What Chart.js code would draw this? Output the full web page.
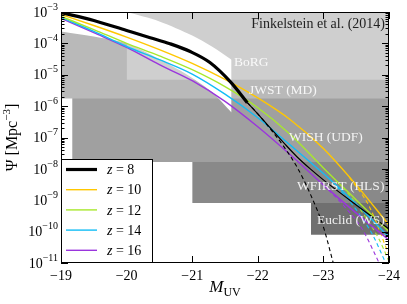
<!DOCTYPE html>
<html>
<head>
<meta charset="utf-8">
<script src="https://cdn.jsdelivr.net/npm/chart.js@4.4.0/dist/chart.umd.min.js"></script>
<style>
  html, body { margin: 0; padding: 0; background: #fff; }
  canvas { display: block; }
</style>
</head>
<body>
<canvas id="uvlf" width="407" height="304"></canvas>
<script>
// magnitude grid the coloured curves were read on
const magnitudes = [-19, -19.5, -20, -20.5, -21, -21.5, -22, -22.5, -23, -23.5, -24];

// log10 Psi [Mpc^-3], solid curves
const logPsiZ10 = [-3.08, -3.43, -3.80, -4.20, -4.64, -5.15, -5.74, -6.44, -7.35, -8.51, -9.79];
const logPsiZ12 = [-3.14, -3.56, -4.00, -4.40, -4.84, -5.38, -6.05, -6.91, -7.97, -8.99, -10.0];
const logPsiZ14 = [-3.17, -3.62, -4.10, -4.52, -4.98, -5.62, -6.37, -7.25, -8.15, -9.12, -10.17];
const logPsiZ16 = [-3.20, -3.66, -4.13, -4.68, -5.19, -5.85, -6.66, -7.56, -8.51, -9.41, -10.27];

// z = 8: thick part, thin solid extension, dashed extension
const magZ8Thick = [-19, -19.5, -20, -20.36, -20.66, -20.97, -21.27, -21.58, -21.84];
const logZ8Thick = [-3.02, -3.27, -3.59, -3.82, -4.01, -4.26, -4.61, -5.22, -5.89];
const magZ8Thin  = [-21.84, -22, -22.2, -22.4, -22.6, -22.8, -23, -23.5, -24];
const logZ8Thin  = [-5.89, -6.25, -6.72, -7.18, -7.62, -8.0, -8.35, -9.15, -9.92];
const magZ8Dash  = [-21.84, -22, -22.2, -22.4, -22.6, -22.8, -23, -23.15];
const logZ8Dash  = [-5.89, -6.25, -6.75, -7.3, -7.95, -8.8, -9.85, -11.0];

// dashed bright-end continuations of the coloured curves
const dashMagZ10 = [-23.4, -23.7, -24.0];
const dashLogZ10 = [-8.28, -9.2, -10.75];
const dashMagZ12 = [-23.3, -23.6, -23.85, -24.0];
const dashLogZ12 = [-8.58, -9.4, -10.25, -10.95];
const dashMagZ14 = [-23.2, -23.5, -23.75, -23.95];
const dashLogZ14 = [-8.56, -9.3, -10.1, -11.0];
const dashMagZ16 = [-23.0, -23.3, -23.6, -23.85];
const dashLogZ16 = [-8.51, -9.15, -9.95, -11.0];

// white band (upper and lower edge)
const bandMag      = [-19, -19.5, -20, -20.5, -21, -21.3, -21.6];
const bandLogUpper = [-2.55, -2.75, -3.0, -3.3, -3.75, -4.1, -4.52];
const bandLogLower = [-3.62, -3.78, -4.0, -4.5, -5.1, -5.55, -6.2];

// surveys: faint limit in M_UV, log10 of 1/volume
const surveyNames  = ['Euclid (WS)', 'WFIRST (HLS)', 'WISH (UDF)', 'JWST (MD)', 'BoRG'];
const surveyMagLim = [-22.81, -21.0, -19.17, -18.5, -20.0];
const surveyLogPsi = [-10.1, -9.09, -7.78, -5.76, -5.16];
const surveyGrays  = ['#707070', '#898989', '#a0a0a0', '#b9b9b9', '#cfcfcf'];

const redshiftLabels = ['8', '10', '12', '14', '16'];
const redshiftColors = ['#000000', '#ffc700', '#a8e82c', '#12bdf5', '#9a35dd'];

const yDecades = [-11, -10, -9, -8, -7, -6, -5, -4, -3];
const xTicks = [-19, -20, -21, -22, -23, -24];

const toPoints = (mags, logs) => mags.map((m, i) => ({ x: m, y: Math.pow(10, logs[i]) }));

const lineSet = (label, mags, logs, color, width, dash, order) => ({
    label: label,
    data: toPoints(mags, logs),
    borderColor: color,
    borderWidth: width,
    borderDash: dash,
    pointRadius: 0,
    cubicInterpolationMode: 'monotone',
    fill: false,
    order: order
});

const datasets = [];
datasets.push(lineSet('z = 8', magZ8Thick, logZ8Thick, '#000', 3.2, [], 0));
datasets.push(lineSet('z8 thin', magZ8Thin, logZ8Thin, '#000', 1.2, [], 0));
datasets.push(lineSet('z8 dash', magZ8Dash, logZ8Dash, '#000', 1.1, [4, 3], 0));

const colouredLogs = [logPsiZ10, logPsiZ12, logPsiZ14, logPsiZ16];
const dashMags = [dashMagZ10, dashMagZ12, dashMagZ14, dashMagZ16];
const dashLogs = [dashLogZ10, dashLogZ12, dashLogZ14, dashLogZ16];
colouredLogs.forEach((logs, i) => {
    const z = redshiftLabels[i + 1];
    const c = redshiftColors[i + 1];
    datasets.push(lineSet('z = ' + z, magnitudes, logs, c, 1.4, [], 1));
    datasets.push(lineSet('dash' + z, dashMags[i], dashLogs[i], c, 1.1, [4, 3], 2));
});

const upperIndex = datasets.length;
datasets.push({
    label: 'bandUpper',
    data: toPoints(bandMag, bandLogUpper),
    borderWidth: 0,
    pointRadius: 0,
    tension: 0.3,
    fill: false,
    order: 5
});
datasets.push({
    label: 'bandLower',
    data: toPoints(bandMag, bandLogLower),
    borderWidth: 0,
    pointRadius: 0,
    tension: 0.3,
    backgroundColor: '#ffffff',
    fill: { target: upperIndex },
    order: 5
});

surveyNames.forEach((name, i) => {
    datasets.push({
        label: name,
        data: [{ x: surveyMagLim[i], y: Math.pow(10, surveyLogPsi[i]) }, { x: -24, y: Math.pow(10, surveyLogPsi[i]) }],
        borderWidth: 0,
        pointRadius: 0,
        backgroundColor: surveyGrays[i],
        fill: 'end',
        order: 20 - i
    });
});

const serif = '"Liberation Serif", "DejaVu Serif", serif';

const decorPlugin = {
    id: 'decor',
    afterDatasetsDraw(chart) {
        const { ctx, chartArea: a, scales: { x, y } } = chart;
        ctx.save();

        // survey labels
        ctx.fillStyle = 'rgba(255,255,255,0.88)';
        ctx.font = '13.5px ' + serif;
        ctx.textBaseline = 'middle';
        ctx.textAlign = 'left';
        const labelPos = [[317, 220], [297, 186], [289, 137], [249, 90], [234, 62]];
        surveyNames.forEach((n, i) => ctx.fillText(n, labelPos[i][0], labelPos[i][1]));

        // annotation
        ctx.fillStyle = '#222';
        ctx.font = '14px ' + serif;
        ctx.textAlign = 'right';
        ctx.fillText('Finkelstein et al. (2014)', a.right - 4, a.top + 12);

        // frame
        ctx.strokeStyle = '#000';
        ctx.lineWidth = 1;
        ctx.strokeRect(a.left + 0.5, a.top + 0.5, a.right - a.left - 1, a.bottom - a.top - 1);

        // ticks, pointing inwards on all four sides
        ctx.beginPath();
        yDecades.forEach(e => {
            const py = Math.round(y.getPixelForValue(Math.pow(10, e))) + 0.5;
            ctx.moveTo(a.left, py); ctx.lineTo(a.left + 7, py);
            ctx.moveTo(a.right, py); ctx.lineTo(a.right - 7, py);
            if (e < -3) {
                for (let k = 2; k <= 9; k++) {
                    const pm = Math.round(y.getPixelForValue(k * Math.pow(10, e))) + 0.5;
                    ctx.moveTo(a.left, pm); ctx.lineTo(a.left + 3.5, pm);
                    ctx.moveTo(a.right, pm); ctx.lineTo(a.right - 3.5, pm);
                }
            }
        });
        xTicks.forEach(m => {
            const px = Math.round(x.getPixelForValue(m)) + 0.5;
            ctx.moveTo(px, a.bottom); ctx.lineTo(px, a.bottom - 7);
            ctx.moveTo(px, a.top); ctx.lineTo(px, a.top + 7);
        });
        ctx.stroke();

        // y tick labels 10^e
        ctx.fillStyle = '#000';
        ctx.textAlign = 'left';
        yDecades.forEach(e => {
            const py = y.getPixelForValue(Math.pow(10, e));
            ctx.font = '14px ' + serif;
            const w10 = ctx.measureText('10').width;
            ctx.font = '10px ' + serif;
            const sup = '\u2212' + Math.abs(e);
            const ws = ctx.measureText(sup).width;
            const x0 = a.left - 3 - w10 - ws;
            ctx.font = '14px ' + serif;
            ctx.fillText('10', x0, py + 1);
            ctx.font = '10px ' + serif;
            ctx.fillText(sup, x0 + w10, py - 5);
        });

        // x tick labels
        ctx.font = '14px ' + serif;
        ctx.textAlign = 'center';
        xTicks.forEach(m => {
            ctx.fillText('\u2212' + Math.abs(m), x.getPixelForValue(m), a.bottom + 13);
        });

        // x title M_UV
        ctx.font = 'italic 17px ' + serif;
        const wM = ctx.measureText('M').width;
        ctx.font = '12px ' + serif;
        const wUV = ctx.measureText('UV').width;
        const cx = (a.left + a.right) / 2 - (wM + wUV) / 2;
        ctx.textAlign = 'left';
        ctx.font = 'italic 17px ' + serif;
        ctx.fillText('M', cx, 288);
        ctx.font = '12px ' + serif;
        ctx.fillText('UV', cx + wM, 293);

        // y title Psi [Mpc^-3]
        ctx.save();
        ctx.translate(13, (a.top + a.bottom) / 2);
        ctx.rotate(-Math.PI / 2);
        ctx.font = '16px ' + serif;
        const t1 = '\u03a8 [Mpc';
        const w1 = ctx.measureText(t1).width;
        ctx.font = '11px ' + serif;
        const w2 = ctx.measureText('\u22123').width;
        ctx.font = '16px ' + serif;
        const w3 = ctx.measureText(']').width;
        const tx = -(w1 + w2 + w3) / 2;
        ctx.fillText(t1, tx, 0);
        ctx.font = '11px ' + serif;
        ctx.fillText('\u22123', tx + w1, -6);
        ctx.font = '16px ' + serif;
        ctx.fillText(']', tx + w1 + w2, 0);
        ctx.restore();

        // legend box
        const lx = a.left, ly = 159, lw = 91, lh = a.bottom - 159;
        ctx.fillStyle = '#fff';
        ctx.fillRect(lx, ly, lw, lh);
        ctx.strokeStyle = '#000';
        ctx.lineWidth = 1;
        ctx.strokeRect(lx + 0.5, ly + 0.5, lw, lh - 1);
        redshiftLabels.forEach((z, i) => {
            const ry = 169.5 + i * 20.2;
            ctx.strokeStyle = redshiftColors[i];
            ctx.lineWidth = i === 0 ? 3.2 : 1.4;
            ctx.beginPath();
            ctx.moveTo(lx + 5, ry); ctx.lineTo(lx + 36, ry);
            ctx.stroke();
            ctx.fillStyle = '#000';
            ctx.font = 'italic 14px ' + serif;
            ctx.fillText('z', lx + 46, ry + 1);
            const wz = ctx.measureText('z').width;
            ctx.font = '14px ' + serif;
            ctx.fillText(' = ' + z, lx + 46 + wz, ry + 1);
        });

        ctx.restore();
    }
};

document.addEventListener('DOMContentLoaded', () => {
    const ctx = document.getElementById('uvlf').getContext('2d');
    new Chart(ctx, {
        type: 'line',
        data: { datasets: datasets },
        options: {
            responsive: false,
            animation: false,
            devicePixelRatio: 1,
            layout: { padding: { left: 61, right: 18, top: 12, bottom: 41 } },
            plugins: { legend: { display: false }, tooltip: { enabled: false } },
            scales: {
                x: { type: 'linear', min: -24, max: -19, reverse: true, display: false },
                y: { type: 'logarithmic', min: 1e-11, max: 1e-3, display: false }
            }
        },
        plugins: [decorPlugin]
    });
});
</script>
</body>
</html>
